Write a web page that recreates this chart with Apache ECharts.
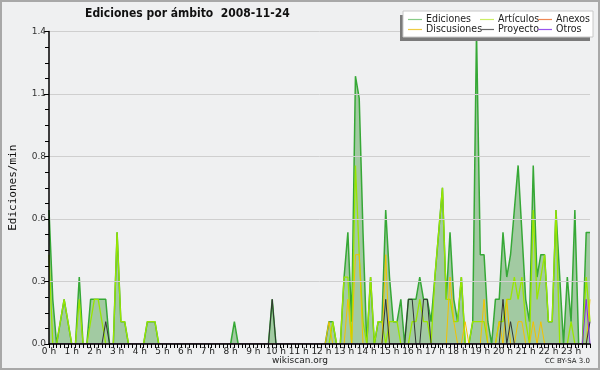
<!DOCTYPE html>
<html>
<head>
<meta charset="utf-8">
<script src="https://cdn.jsdelivr.net/npm/echarts@6/dist/echarts.min.js"></script>
<style>
html,body{margin:0;padding:0;background:#eff0f1;}
#chart{width:600px;height:370px;}
</style>
</head>
<body>
<div id="chart"></div>
<script>
// 10-minute slots (144 per day)
var hours = [];
for (var h = 0; h < 24; h++) { for (var m = 0; m < 6; m++) { hours.push(h + ' h'); } }

var ediciones = [
  0.6,0.2,0,0.1,0.2,0.1,0,0,0.3,0,0,0.2,
  0.2,0.2,0.2,0.2,0,0,0.5,0.1,0.1,0,0,0,
  0,0,0.1,0.1,0.1,0,0,0,0,0,0,0,
  0,0,0,0,0,0,0,0,0,0,0,0,
  0,0.1,0,0,0,0,0,0,0,0,0,0.2,
  0,0,0,0,0,0,0,0,0,0,0,0,
  0,0,0.1,0.1,0,0,0.3,0.5,0.1,1.2,1.1,0.5,
  0,0.3,0,0.1,0.1,0.6,0.3,0.1,0.1,0.2,0,0.2,
  0.2,0.2,0.3,0.2,0.2,0.1,0.3,0.5,0.7,0.2,0.5,0.2,
  0.1,0.3,0,0,0.1,1.4,0.4,0.4,0.1,0,0.2,0.2,
  0.5,0.3,0.4,0.6,0.8,0.5,0.2,0.1,0.8,0.3,0.4,0.4,
  0.1,0.1,0.6,0.3,0,0.3,0.1,0.6,0,0,0.5,0.5
];
var articulos = [
  0.4,0,0,0.1,0.2,0.1,0,0,0.2,0,0,0.1,
  0.2,0.2,0.1,0,0,0,0.5,0.1,0.1,0,0,0,
  0,0,0.1,0.1,0.1,0,0,0,0,0,0,0,
  0,0,0,0,0,0,0,0,0,0,0,0,
  0,0,0,0,0,0,0,0,0,0,0,0,
  0,0,0,0,0,0,0,0,0,0,0,0,
  0,0,0,0.1,0,0,0.3,0.3,0,0.8,0.4,0.1,
  0,0.3,0,0.1,0.1,0,0.1,0.1,0.1,0,0,0,
  0.1,0.1,0.2,0.1,0.1,0,0.3,0.5,0.7,0.2,0.2,0.1,
  0.1,0.3,0,0,0.1,0.1,0.1,0.1,0,0,0,0.1,
  0.1,0.2,0.2,0.3,0.2,0.3,0.1,0,0.6,0.2,0.3,0.4,
  0.1,0.1,0.6,0,0,0,0.1,0,0,0,0.3,0.1
];
var anexos = [];
var discusiones = [
  0,0,0,0,0,0,0,0,0,0,0,0,
  0,0,0,0,0,0,0,0,0,0,0,0,
  0,0,0,0,0,0,0,0,0,0,0,0,
  0,0,0,0,0,0,0,0,0,0,0,0,
  0,0,0,0,0,0,0,0,0,0,0,0,
  0,0,0,0,0,0,0,0,0,0,0,0,
  0,0,0.1,0,0,0,0,0.2,0,0.4,0.4,0,
  0,0,0,0,0,0.4,0,0,0,0,0,0,
  0,0,0,0,0,0,0,0,0,0,0.3,0.1,
  0,0,0.1,0,0,0,0,0.2,0,0,0,0.1,
  0,0.2,0,0,0.1,0.1,0,0,0.1,0,0.1,0,
  0,0,0,0,0,0,0,0,0,0,0,0.2
];
var proyecto = [
  0,0,0,0,0,0,0,0,0,0,0,0,
  0,0,0,0.1,0,0,0,0,0,0,0,0,
  0,0,0,0,0,0,0,0,0,0,0,0,
  0,0,0,0,0,0,0,0,0,0,0,0,
  0,0,0,0,0,0,0,0,0,0,0,0.2,
  0,0,0,0,0,0,0,0,0,0,0,0,
  0,0,0,0,0,0,0,0,0,0,0,0,
  0,0,0,0,0,0.2,0,0,0,0,0,0.2,
  0.2,0,0,0.2,0.2,0,0,0,0,0,0,0,
  0,0,0,0,0,0,0,0,0,0,0,0,
  0.2,0,0.1,0,0,0,0,0,0,0,0,0,
  0,0,0,0,0,0,0,0,0,0,0,0.1
];
var otros = [
  0,0,0,0,0,0,0,0,0,0,0,0,
  0,0,0,0,0,0,0,0,0,0,0,0,
  0,0,0,0,0,0,0,0,0,0,0,0,
  0,0,0,0,0,0,0,0,0,0,0,0,
  0,0,0,0,0,0,0,0,0,0,0,0,
  0,0,0,0,0,0,0,0,0,0,0,0,
  0,0,0,0,0,0,0,0,0,0,0,0,
  0,0,0,0,0,0,0,0,0,0,0,0,
  0,0,0,0,0,0,0,0,0,0,0,0,
  0,0,0,0,0,0,0,0,0,0,0,0,
  0,0,0,0,0,0,0,0,0,0,0,0,
  0,0,0,0,0,0,0,0,0,0,0.2,0
];

var chart = echarts.init(document.getElementById('chart'), null, {renderer: 'canvas'});
var F = 'DejaVu Sans';
var FC = '"DejaVu Sans Condensed", "DejaVu Sans"';
function lineSeries(name, data, color, width, z) {
  return {name: name, type: 'line', data: data, symbol: 'none', z: z,
    lineStyle: {color: color, width: width}, itemStyle: {color: color}};
}
function leg(name, x, y, color) {
  return {data: [name], left: x, top: y, itemWidth: 14, itemHeight: 1.2, icon: 'rect',
    itemGap: 0, padding: 0, selectedMode: false, z: 110,
    itemStyle: {color: color},
    textStyle: {fontFamily: FC, fontSize: 10.5, color: '#222', padding: [0, 0, 0, -1]}};
}
var ed = lineSeries('Ediciones', ediciones, '#36a836', 1.5, 3);
ed.areaStyle = {color: '#a2caa2', opacity: 1};
var option = {
  backgroundColor: '#eff0f1',
  animation: false,
  title: {text: 'Ediciones por ámbito  2008-11-24', left: 85, top: 8, padding: 0,
    textStyle: {fontFamily: FC, fontSize: 12, fontWeight: 'bold', color: '#111'}},
  grid: {left: 46, right: 10, top: 31.5, bottom: 26},
  legend: [
    leg('Ediciones', 408, 14, '#88cc88'), leg('Artículos', 480, 14, '#ccee66'), leg('Anexos', 538, 14, '#ee8855'),
    leg('Discusiones', 408, 24, '#eecc44'), leg('Proyecto', 480, 24, '#666666'), leg('Otros', 538, 24, '#9955ee')
  ],
  xAxis: {type: 'category', data: hours, boundaryGap: false, z: 10,
    axisLine: {lineStyle: {color: '#000', width: 1.5}},
    axisTick: {show: true, interval: 0, length: 4, lineStyle: {color: '#000'}},
    axisLabel: {interval: 5, fontFamily: F, fontSize: 9, color: '#222', margin: 3},
    splitLine: {show: false}},
  yAxis: {type: 'value', min: 0, max: 1.4, interval: 0.28, z: 10,
    name: 'Ediciones/min', nameLocation: 'middle', nameRotate: 90, nameGap: 30,
    nameTextStyle: {fontFamily: 'DejaVu Sans Mono', fontSize: 11, color: '#111'},
    axisLine: {show: true, lineStyle: {color: '#000', width: 1.5}},
    axisTick: {show: true, length: 5, lineStyle: {color: '#000'}},
    minorTick: {show: true, splitNumber: 4, length: 4, lineStyle: {color: '#000'}},
    axisLabel: {fontFamily: F, fontSize: 9, color: '#333', margin: 3,
      formatter: function (v) { return v.toFixed(1); }},
    splitLine: {show: true, lineStyle: {color: '#cfcfcf', width: 1}}},
  graphic: [
    {type: 'rect', shape: {x: 400, y: 15, width: 190, height: 26}, style: {fill: '#7a7a7a'}, z: 100},
    {type: 'rect', shape: {x: 403, y: 11, width: 190, height: 26}, style: {fill: '#ffffff', stroke: '#c8c8c8', lineWidth: 1}, z: 101},
    {type: 'text', left: 'center', top: 356, style: {text: 'wikiscan.org', font: '9px DejaVu Sans', fill: '#222'}, z: 100},
    {type: 'text', right: 10, top: 358, style: {text: 'CC BY-SA 3.0', font: '7px DejaVu Sans', fill: '#222'}, z: 100},
    {type: 'rect', shape: {x: 1, y: 1, width: 598, height: 368}, style: {fill: 'none', stroke: '#a8a8a8', lineWidth: 2}, z: 100, silent: true}
  ],
  series: [
    ed,
    lineSeries('Artículos', articulos, '#99e600', 1.3, 4),
    lineSeries('Anexos', anexos, '#ee7744', 1, 4),
    lineSeries('Discusiones', discusiones, '#f2c200', 1, 5),
    lineSeries('Proyecto', proyecto, '#333333', 1, 6),
    lineSeries('Otros', otros, '#8a2be2', 1, 7)
  ]
};
chart.setOption(option);
</script>
</body>
</html>
